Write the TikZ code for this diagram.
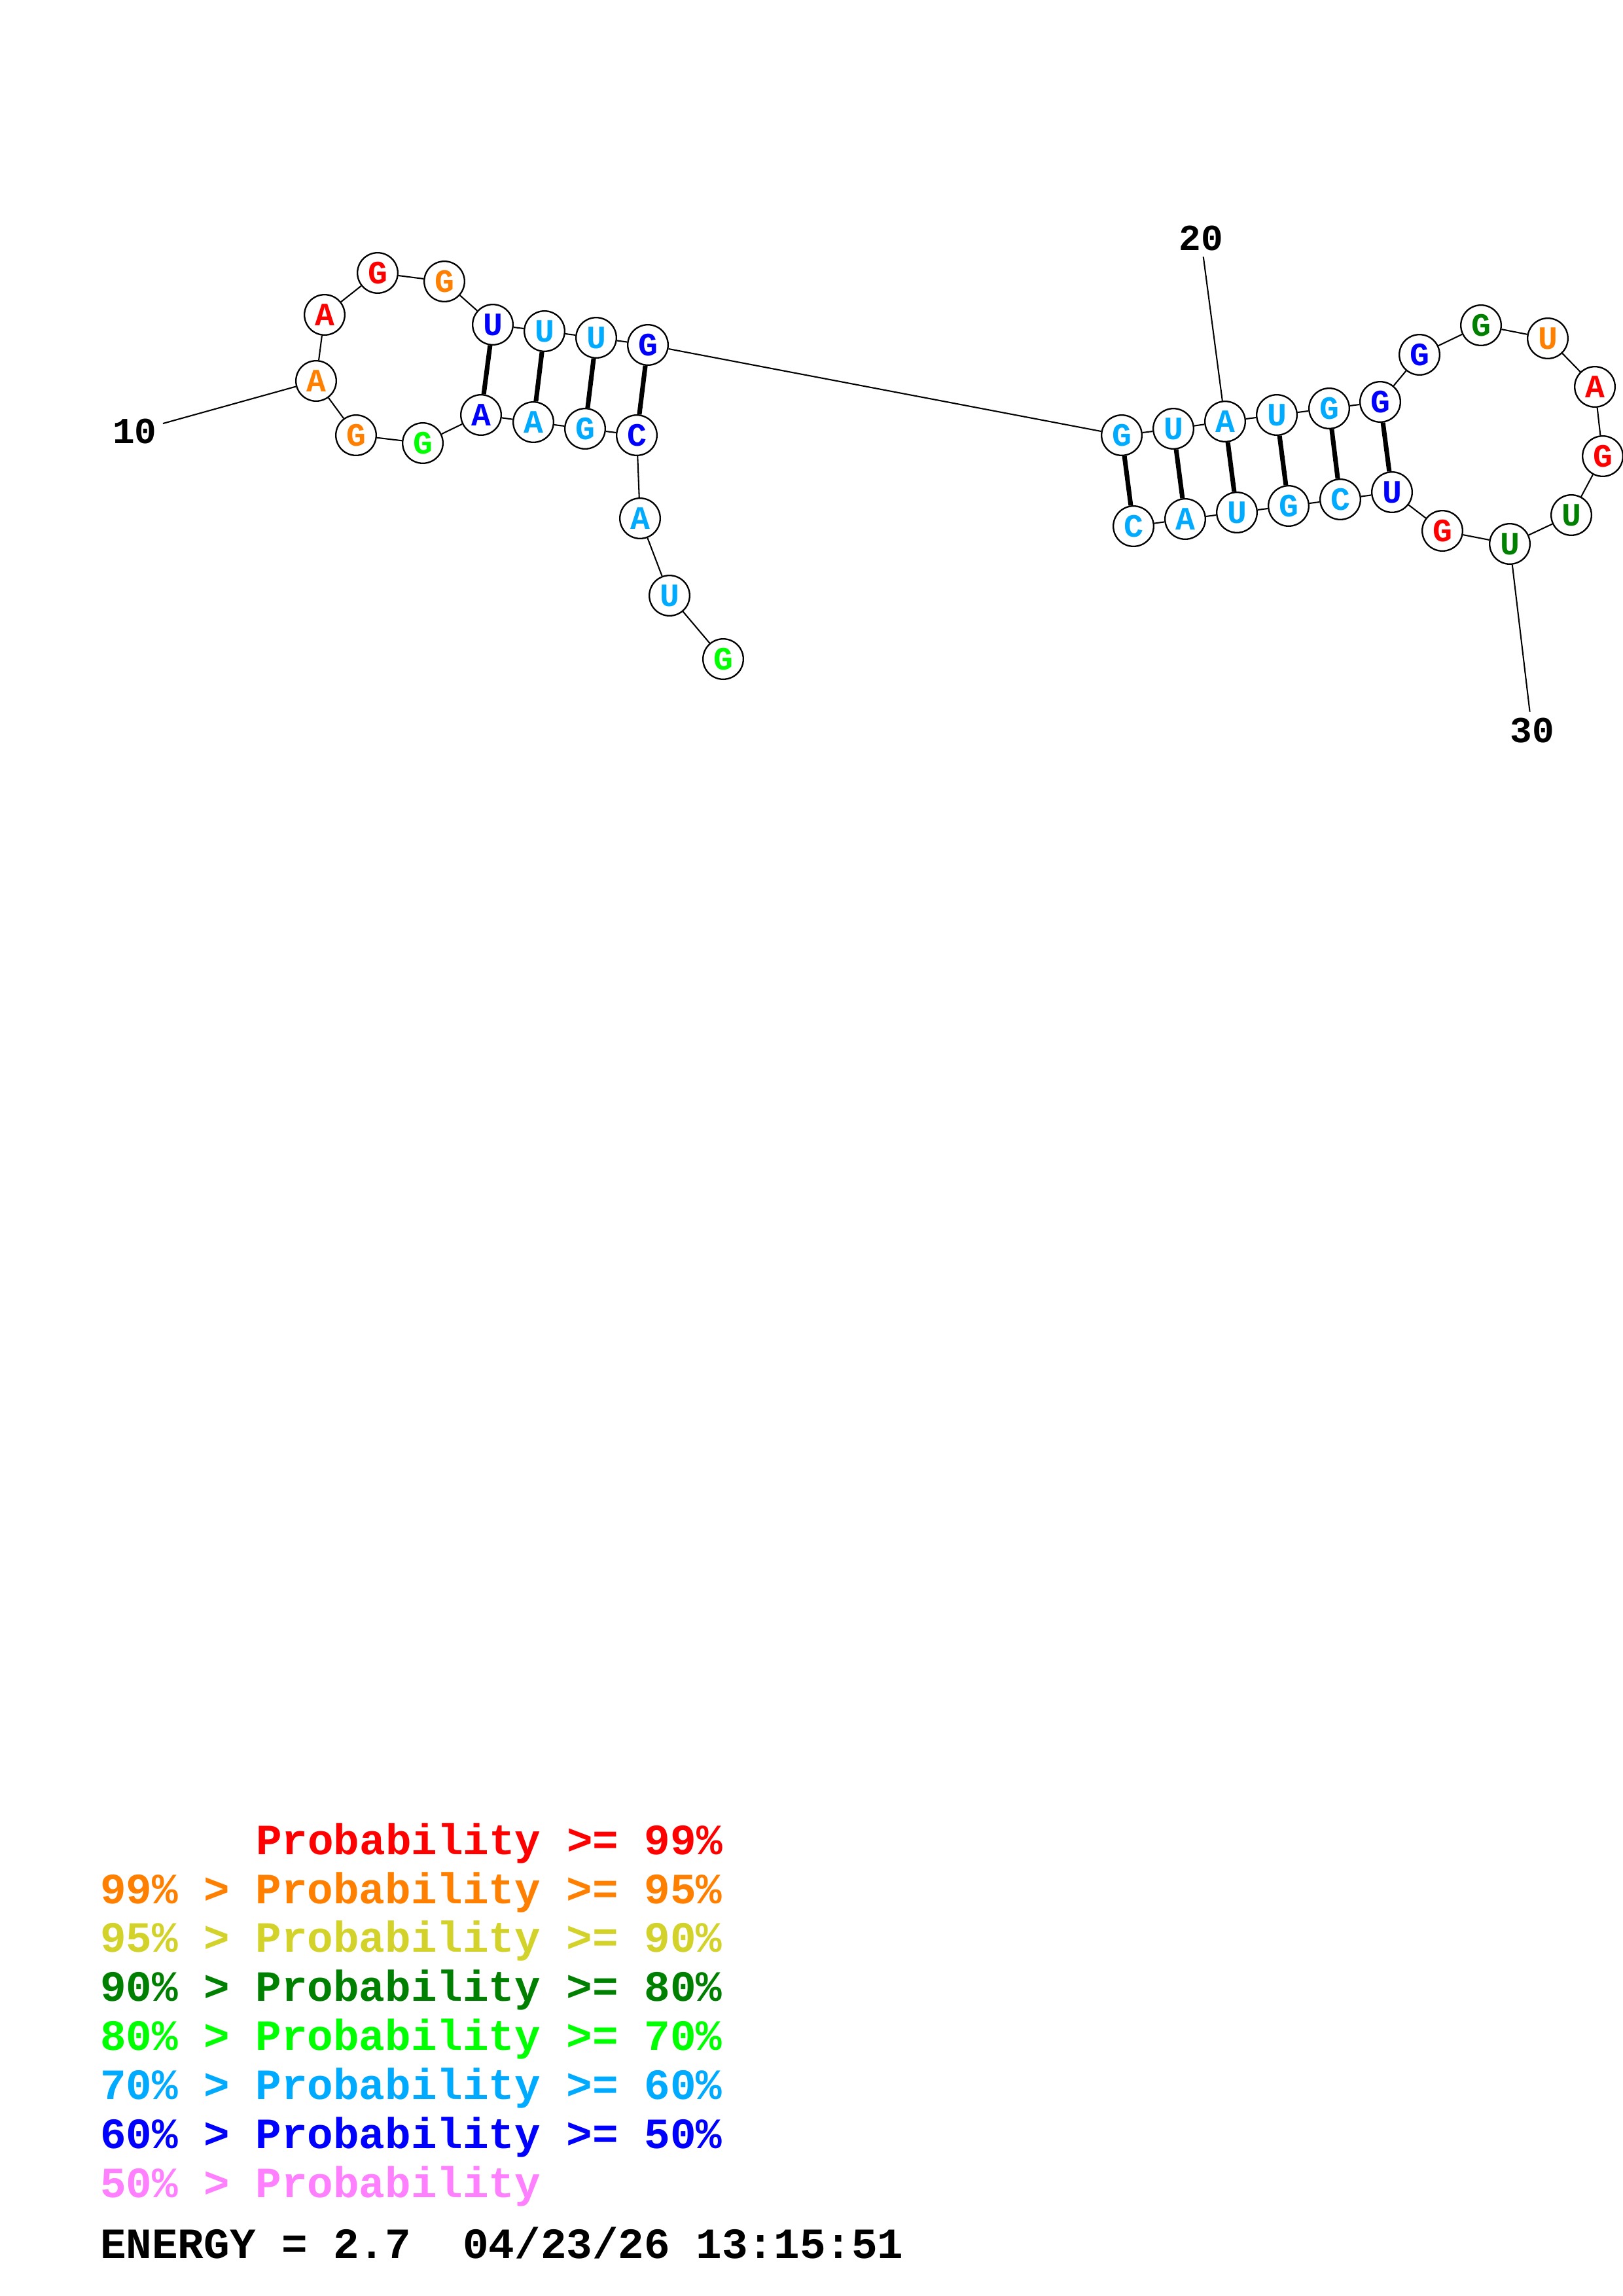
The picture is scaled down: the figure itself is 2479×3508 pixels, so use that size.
\documentclass[tikz,border=0pt]{standalone}
\usepackage{fontspec}
\setmonofont{Liberation Mono}
\usepackage{xcolor}
\usepackage{tikz}

\definecolor{pr99}{RGB}{255,0,0}
\definecolor{pr95}{RGB}{255,128,0}
\definecolor{pr90}{RGB}{210,210,42}
\definecolor{pr80}{RGB}{0,128,0}
\definecolor{pr70}{RGB}{0,255,0}
\definecolor{pr60}{RGB}{0,170,255}
\definecolor{pr50}{RGB}{0,0,255}
\definecolor{prlow}{RGB}{255,128,255}

\begin{document}
\begin{tikzpicture}[x=0.0084712cm,y=-0.0084712cm,line width=0.5pt]
                \tikzset{nuc/.style={circle, draw, line width=0.56pt, fill=white, minimum size=0.522cm, inner sep=0pt, font=\ttfamily\bfseries\fontsize{12}{12}\selectfont}}
                \tikzset{pair/.style={line width=1.7pt}}
                \tikzset{numlab/.style={inner sep=2pt, font=\ttfamily\bfseries\fontsize{13.5}{13.5}\selectfont}}
                \tikzset{legend/.style={anchor=base west, inner sep=0pt, font=\ttfamily\bfseries\fontsize{15.9}{15.9}\selectfont}}

                \useasboundingbox (0,0) rectangle (2479,3508);

                \node[nuc, text=pr70] (n1) at (1105,1007) {G};
                \node[nuc, text=pr60] (n2) at (1023,910) {U};
                \node[nuc, text=pr60] (n3) at (978,792) {A};
                \node[nuc, text=pr50] (n4) at (973,665) {C};
                \node[nuc, text=pr60] (n5) at (894,655) {G};
                \node[nuc, text=pr60] (n6) at (815,645) {A};
                \node[nuc, text=pr50] (n7) at (735,634) {A};
                \node[nuc, text=pr70] (n8) at (646,677) {G};
                \node[nuc, text=pr95] (n9) at (544,665) {G};
                \node[nuc, text=pr95] (n10) at (483,582) {A};
                \node[nuc, text=pr99] (n11) at (496,481) {A};
                \node[nuc, text=pr99] (n12) at (577,417) {G};
                \node[nuc, text=pr95] (n13) at (679,430) {G};
                \node[nuc, text=pr50] (n14) at (753,496) {U};
                \node[nuc, text=pr60] (n15) at (832,506) {U};
                \node[nuc, text=pr60] (n16) at (911,516) {U};
                \node[nuc, text=pr50] (n17) at (990,527) {G};
                \node[nuc, text=pr60] (n18) at (1714,665) {G};
                \node[nuc, text=pr60] (n19) at (1793,655) {U};
                \node[nuc, text=pr60] (n20) at (1872,644) {A};
                \node[nuc, text=pr60] (n21) at (1951,634) {U};
                \node[nuc, text=pr60] (n22) at (2031,624) {G};
                \node[nuc, text=pr50] (n23) at (2109,614) {G};
                \node[nuc, text=pr50] (n24) at (2169,542) {G};
                \node[nuc, text=pr80] (n25) at (2263,497) {G};
                \node[nuc, text=pr95] (n26) at (2365,517) {U};
                \node[nuc, text=pr99] (n27) at (2437,591) {A};
                \node[nuc, text=pr99] (n28) at (2449,697) {G};
                \node[nuc, text=pr80] (n29) at (2401,787) {U};
                \node[nuc, text=pr80] (n30) at (2307,831) {U};
                \node[nuc, text=pr99] (n31) at (2204,811) {G};
                \node[nuc, text=pr50] (n32) at (2127,752) {U};
                \node[nuc, text=pr60] (n33) at (2048,763) {C};
                \node[nuc, text=pr60] (n34) at (1969,773) {G};
                \node[nuc, text=pr60] (n35) at (1890,783) {U};
                \node[nuc, text=pr60] (n36) at (1811,793) {A};
                \node[nuc, text=pr60] (n37) at (1732,804) {C};

                \node[numlab] (l10) at (206,659) {10};
                \node[numlab] (l20) at (1835,364) {20};
                \node[numlab] (l30) at (2341,1116) {30};

                \path (n1) edge (n2);
                \path (n2) edge (n3);
                \path (n3) edge (n4);
                \path (n4) edge (n5);
                \path (n5) edge (n6);
                \path (n6) edge (n7);
                \path (n7) edge (n8);
                \path (n8) edge (n9);
                \path (n9) edge (n10);
                \path (n10) edge (n11);
                \path (n11) edge (n12);
                \path (n12) edge (n13);
                \path (n13) edge (n14);
                \path (n14) edge (n15);
                \path (n15) edge (n16);
                \path (n16) edge (n17);
                \path (n17) edge (n18);
                \path (n18) edge (n19);
                \path (n19) edge (n20);
                \path (n20) edge (n21);
                \path (n21) edge (n22);
                \path (n22) edge (n23);
                \path (n23) edge (n24);
                \path (n24) edge (n25);
                \path (n25) edge (n26);
                \path (n26) edge (n27);
                \path (n27) edge (n28);
                \path (n28) edge (n29);
                \path (n29) edge (n30);
                \path (n30) edge (n31);
                \path (n31) edge (n32);
                \path (n32) edge (n33);
                \path (n33) edge (n34);
                \path (n34) edge (n35);
                \path (n35) edge (n36);
                \path (n36) edge (n37);

                \path[pair] (n4) edge (n17);
                \path[pair] (n5) edge (n16);
                \path[pair] (n6) edge (n15);
                \path[pair] (n7) edge (n14);
                \path[pair] (n18) edge (n37);
                \path[pair] (n19) edge (n36);
                \path[pair] (n20) edge (n35);
                \path[pair] (n21) edge (n34);
                \path[pair] (n22) edge (n33);
                \path[pair] (n23) edge (n32);

                \path (l10) edge (n10);
                \path (l20) edge (n20);
                \path (l30) edge (n30);

                \node[legend, text=pr99] (k99) at (390,2833) {Probability >= 99\%};
                \node[legend, text=pr95] (k95) at (152,2908) {99\% > Probability >= 95\%};
                \node[legend, text=pr90] (k90) at (152,2982) {95\% > Probability >= 90\%};
                \node[legend, text=pr80] (k80) at (152,3057) {90\% > Probability >= 80\%};
                \node[legend, text=pr70] (k70) at (152,3132) {80\% > Probability >= 70\%};
                \node[legend, text=pr60] (k60) at (152,3207) {70\% > Probability >= 60\%};
                \node[legend, text=pr50] (k50) at (152,3282) {60\% > Probability >= 50\%};
                \node[legend, text=prlow] (klow) at (152,3357) {50\% > Probability};
                \node[legend] (energy) at (152,3450) {ENERGY = 2.7\ \ 04/23/26 13:15:51};
            \end{tikzpicture}
\end{document}
